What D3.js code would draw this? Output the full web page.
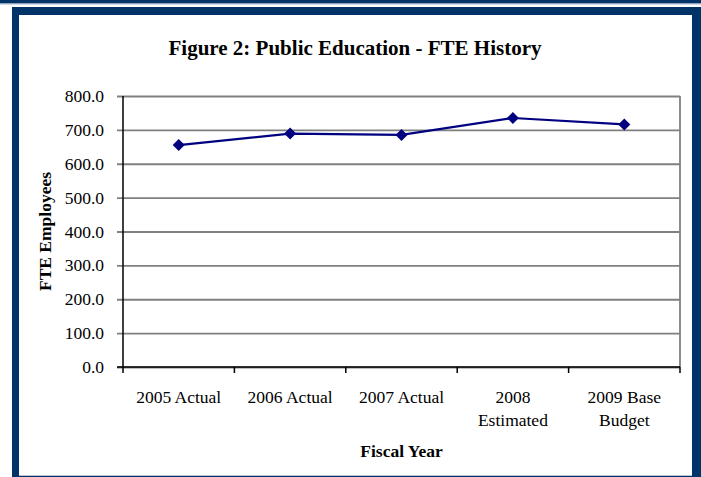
<!DOCTYPE html>
<html>
<head>
<meta charset="utf-8">
<script src="https://cdn.jsdelivr.net/npm/d3@7"></script>
<style>
  body { margin: 0; background: #fff; }
  svg { display: block; }
</style>
</head>
<body>
<div class="chart"></div>
<script>
// DATA ------------------------------------
const categories = ['2005 Actual', '2006 Actual', '2007 Actual', '2008 Estimated', '2009 Base Budget'];
const tickLines = [['2005 Actual'], ['2006 Actual'], ['2007 Actual'], ['2008', 'Estimated'], ['2009 Base', 'Budget']];
const fteValues = [655, 689, 685, 735, 716];
const yTicks = [0, 100, 200, 300, 400, 500, 600, 700, 800];

const W = 701;
const H = 477;
const navy = '#003469';
const serif = '"Liberation Serif", "Times New Roman", serif';

const svg = d3
  .select('.chart')
  .append('svg')
  .attr('width', W)
  .attr('height', H);

// page frame
svg.append('rect').attr('x', 0).attr('y', 0).attr('width', W).attr('height', 3.5).attr('fill', navy);
svg.append('rect').attr('x', 0).attr('y', 3.5).attr('width', W).attr('height', 1).attr('fill', '#9fb2cc');
svg.append('rect').attr('x', 12).attr('y', 7).attr('width', W - 12).attr('height', H - 7).attr('fill', navy);
svg.append('rect').attr('x', 19).attr('y', 15).attr('width', 673).attr('height', 460).attr('fill', '#fff');
svg.append('rect').attr('x', 19).attr('y', 475).attr('width', 673).attr('height', 1).attr('fill', '#b8c4d6');

// chart area
const margin = { top: 96, right: 21, bottom: 110, left: 123 };
const width = W - margin.left - margin.right; // 557
const height = H - margin.top - margin.bottom; // 271

const group = svg
  .append('g')
  .attr('transform', 'translate(' + margin.left + ',' + margin.top + ')');

const xScale = d3.scaleBand().domain(categories).range([0, width]);
const yScale = d3.scaleLinear().domain([0, 800]).range([height, 0]);

// gridlines + y ticks
const yAxis = d3.axisLeft(yScale).tickValues(yTicks).tickSize(-width).tickFormat(d3.format('.1f')).tickPadding(19);
const yAxisGroup = group
  .append('g')
  .attr('class', 'y-axis')
  .call(yAxis)
  .attr('font-family', serif)
  .attr('font-size', 17.5);
yAxisGroup.select('.domain').remove();
yAxisGroup.selectAll('.tick line').attr('stroke', '#808080').attr('stroke-width', 1.8).attr('x1', -6);
yAxisGroup.selectAll('.tick text').attr('fill', '#000');

// plot right border
group.append('line')
  .attr('x1', width).attr('x2', width)
  .attr('y1', 0).attr('y2', height)
  .attr('stroke', '#808080').attr('stroke-width', 1.8);

// y axis line
group.append('line')
  .attr('x1', 0).attr('x2', 0)
  .attr('y1', 0).attr('y2', height + 6)
  .attr('stroke', '#000').attr('stroke-width', 1.5);

// x axis with ticks at category boundaries
const xAxisGroup = group.append('g').attr('transform', 'translate(0,' + height + ')');
xAxisGroup.append('line')
  .attr('x1', -6).attr('x2', width)
  .attr('stroke', '#000').attr('stroke-width', 1.5);
xAxisGroup.selectAll('.xtick')
  .data(categories)
  .enter()
  .append('line')
  .attr('x1', (d) => xScale(d) + xScale.bandwidth())
  .attr('x2', (d) => xScale(d) + xScale.bandwidth())
  .attr('y1', 0).attr('y2', 6)
  .attr('stroke', '#000').attr('stroke-width', 1.5);

const xLabels = xAxisGroup.selectAll('.xlabel')
  .data(categories)
  .enter()
  .append('text')
  .attr('class', 'xlabel')
  .attr('x', (d) => xScale(d) + xScale.bandwidth() / 2)
  .attr('y', 36)
  .attr('text-anchor', 'middle')
  .attr('font-family', serif)
  .attr('font-size', 17.5)
  .attr('fill', '#000');
xLabels.each(function (d, i) {
  d3.select(this)
    .selectAll('tspan')
    .data(tickLines[i])
    .enter()
    .append('tspan')
    .attr('x', xScale(d) + xScale.bandwidth() / 2)
    .attr('dy', (t, j) => (j === 0 ? 0 : 23))
    .text((t) => t);
});

// line + markers
const line = d3.line()
  .x((d, i) => xScale(categories[i]) + xScale.bandwidth() / 2)
  .y((d) => yScale(d));

group.append('path')
  .datum(fteValues)
  .attr('d', line)
  .attr('fill', 'none')
  .attr('stroke', '#000080')
  .attr('stroke-width', 2.2);

group.selectAll('.marker')
  .data(fteValues)
  .enter()
  .append('path')
  .attr('class', 'marker')
  .attr('transform', (d, i) => 'translate(' + (xScale(categories[i]) + xScale.bandwidth() / 2) + ',' + yScale(d) + ')')
  .attr('d', 'M0,-6L6,0L0,6L-6,0Z')
  .attr('fill', '#000080');

// titles
svg.append('text')
  .attr('x', 355)
  .attr('y', 55)
  .attr('text-anchor', 'middle')
  .attr('font-family', serif)
  .attr('font-weight', 'bold')
  .attr('font-size', 21)
  .text('Figure 2: Public Education - FTE History');

svg.append('text')
  .attr('x', margin.left + width / 2)
  .attr('y', 457)
  .attr('text-anchor', 'middle')
  .attr('font-family', serif)
  .attr('font-weight', 'bold')
  .attr('font-size', 17.5)
  .text('Fiscal Year');

svg.append('text')
  .attr('transform', 'translate(51,' + (margin.top + height / 2) + ') rotate(-90)')
  .attr('text-anchor', 'middle')
  .attr('font-family', serif)
  .attr('font-weight', 'bold')
  .attr('font-size', 17.5)
  .text('FTE Employees');
</script>
</body>
</html>
